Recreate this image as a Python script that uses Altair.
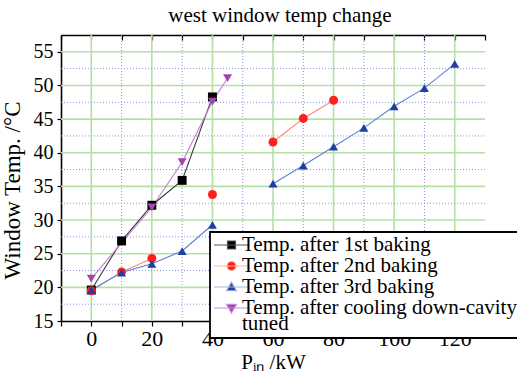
import altair as alt
import pandas as pd

# ---------------- data ----------------
series_names = [
    "Temp. after 1st baking",
    "Temp. after 2nd baking",
    "Temp. after 3rd baking",
    "Temp. after cooling down-cavity tuned",
]
x1 = [0, 10, 20, 30, 40]
y1 = [19.6, 26.9, 32.2, 35.9, 48.3]
x2 = [0, 10, 20, 30, 40, 50, 60, 70, 80]
y2 = [19.5, 22.3, 24.3, None, 33.8, None, 41.6, 45.1, 47.8]
x3 = [0, 10, 20, 30, 40, 50, 60, 70, 80, 90, 100, 110, 120]
y3 = [19.6, 22.2, 23.5, 25.4, 29.3, None, 35.4, 38.1, 40.9, 43.7, 46.9, 49.6, 53.2]
x4 = [0, 20, 30, 40, 45]
y4 = [21.3, 31.9, 38.6, 47.6, 51.1]

x_major = [0, 20, 40, 60, 80, 100, 120]
x_minor = [10, 30, 50, 70, 90, 110]
x_minor_ticks = [-10, 10, 30, 50, 70, 90, 110, 130]
x_all_ticks = [-10, 0, 10, 20, 30, 40, 50, 60, 70, 80, 90, 100, 110, 120, 130]
y_major = [20, 25, 30, 35, 40, 45, 50, 55]
y_labels = [15, 20, 25, 30, 35, 40, 45, 50, 55]
y_minor = [17.5, 22.5, 27.5, 32.5, 37.5, 42.5, 47.5, 52.5]

# ---------------- styles ----------------
marker_colors = ["#000000", "#ff1f1f", "#1f3fa3", "#a444ae"]
line_colors = ["#3a3a3a", "#ff8c78", "#5b80d8", "#c87ad2"]
legend_line_colors = ["#555555", "#ffb4a6", "#a6b6e6", "#c98fd6"]
plot_shapes = ["square", "circle", "triangle-up", "triangle-down"]
legend_shapes = [
    "M-3.6,0H3.6M-0.8,-0.8H0.8V0.8H-0.8Z",
    "M-3.6,0H3.6M-0.9,0A0.9,0.9 0 1,0 0.9,0A0.9,0.9 0 1,0 -0.9,0Z",
    "M-3.6,0H3.6M0,-1L1,0.75H-1Z",
    "M-3.6,0H3.6M0,1L1,-0.75H-1Z",
]
FONT = "Liberation Serif"
FS = 21

rows = []
for name, xs, ys in zip(series_names, [x1, x2, x3, x4], [y1, y2, y3, y4]):
    for xv, yv in zip(xs, ys):
        rows.append({"series": name, "P": xv, "T": yv})
df = pd.DataFrame(rows)

xscale = alt.Scale(domain=[-10, 130], nice=False, zero=False)
yscale = alt.Scale(domain=[15, 57.5], nice=False, zero=False)

grid_green = "#b4e0a4"
grid_blue = "#8796dc"

gx_major = alt.Chart(pd.DataFrame({"gx": x_major})).mark_rule(
    color=grid_green, strokeWidth=1.6
).encode(
    x=alt.X("gx:Q", scale=xscale,
            axis=alt.Axis(orient="top", values=x_all_ticks, labels=False, domain=False,
                          grid=False, ticks=True, tickSize=5, tickColor="#000000",
                          tickWidth=1.2, offset=-5, title=None))
)
gx_minor = alt.Chart(pd.DataFrame({"gx": x_minor})).mark_rule(
    color=grid_blue, strokeWidth=1, strokeDash=[1, 2]
).encode(
    x=alt.X("gx:Q", scale=xscale,
            axis=alt.Axis(orient="bottom", values=x_minor_ticks, labels=False, domain=False,
                          grid=False, ticks=True, tickSize=5, tickColor="#000000",
                          tickWidth=1.2, title=None))
)
gy_major = alt.Chart(pd.DataFrame({"gy": y_major})).mark_rule(
    color=grid_green, strokeWidth=1.6
).encode(y=alt.Y("gy:Q", scale=yscale, axis=None))
gy_minor = alt.Chart(pd.DataFrame({"gy": y_minor})).mark_rule(
    color=grid_blue, strokeWidth=1, strokeDash=[1, 2]
).encode(y=alt.Y("gy:Q", scale=yscale, axis=None))

lines = alt.Chart(df).mark_line(strokeWidth=1.1, invalid="break-paths-show-domains").encode(
    x=alt.X("P:Q", scale=xscale,
            axis=alt.Axis(orient="bottom", values=x_major, labels=True, domain=True,
                          domainColor="#000000", domainWidth=1.6, grid=False,
                          tickSize=5, tickColor="#000000", tickWidth=1.2,
                          labelFont=FONT, labelFontSize=22, labelColor="#000000",
                          labelPadding=2, labelFlush=False,
                          title="Pᵢₙ /kW", titleFont=FONT, titleFontSize=FS,
                          titleFontWeight="normal", titleColor="#000000",
                          titlePadding=2)),
    y=alt.Y("T:Q", scale=yscale,
            axis=alt.Axis(orient="left", values=y_labels, labels=True, domain=True,
                          domainColor="#000000", domainWidth=1.6, grid=False,
                          tickSize=4, tickColor="#000000", tickWidth=1.2,
                          labelFont=FONT, labelFontSize=20, labelColor="#000000",
                          labelPadding=4, labelFlush=False,
                          title="Window Temp. /°C", titleFont=FONT, titleFontSize=23,
                          titleFontWeight="normal", titleColor="#000000",
                          titleX=-37, titleY=155, titleAngle=270)),
    stroke=alt.Stroke("series:N", scale=alt.Scale(domain=series_names, range=line_colors),
                      legend=None),
    detail="series:N",
)

points = alt.Chart(df).mark_point(filled=True, opacity=1, size=80).encode(
    x=alt.X("P:Q", scale=xscale,
            axis=alt.Axis(orient="top", labels=False, ticks=False, domain=True,
                          domainColor="#000000", domainWidth=1.6, grid=False, title=None)),
    y=alt.Y("T:Q", scale=yscale, axis=None),
    fill=alt.Fill("series:N", scale=alt.Scale(domain=series_names, range=marker_colors),
                  legend=None),
    shape=alt.Shape("series:N", scale=alt.Scale(domain=series_names, range=plot_shapes),
                    legend=None),
)

legend_common = dict(
    orient="none", legendX=149, legendY=197, title=None,
    labelFont=FONT, labelFontSize=FS, labelColor="#000000", labelLimit=0,
    labelExpr="datum.label == 'Temp. after cooling down-cavity tuned' ? ['Temp. after cooling down-cavity', 'tuned'] : datum.label",
    symbolSize=100, symbolStrokeWidth=1.2, symbolOffset=7, labelOffset=0,
    clipHeight=18, rowPadding=0, padding=4, fillColor="#ffffff", strokeColor="#000000",
)

legend_df = pd.DataFrame({"series": series_names})
legend_layer = alt.Chart(legend_df).mark_point(filled=True, opacity=1).encode(
    fill=alt.Fill("series:N", scale=alt.Scale(domain=series_names, range=marker_colors),
                  legend=alt.Legend(**legend_common)),
    stroke=alt.Stroke("series:N", scale=alt.Scale(domain=series_names, range=legend_line_colors),
                      legend=alt.Legend(**legend_common)),
    shape=alt.Shape("series:N", scale=alt.Scale(domain=series_names, range=legend_shapes),
                    legend=alt.Legend(**legend_common)),
).transform_filter("false")

chart = alt.layer(
    gx_major, gx_minor, gy_major, gy_minor, lines, points, legend_layer
).resolve_scale(
    fill="independent", stroke="independent", shape="independent"
).resolve_axis(
    x="independent", y="independent"
).properties(
    width=424, height=286,
    autosize=alt.AutoSizeParams(type="none"),
    padding={"left": 61, "top": 35, "right": 32, "bottom": 54},
    title=alt.TitleParams("west window temp change", font=FONT, fontSize=FS,
                          fontWeight="normal", color="#000000", baseline="bottom",
                          offset=12, dx=7, dy=25, anchor="middle", frame="group"),
).configure(
    font=FONT,
    style={
        "guide-label": {"font": FONT, "lineHeight": 16, "fill": "#000000"},
        "guide-title": {"font": FONT, "fontWeight": "normal", "fill": "#000000"},
    },
).configure_view(
    stroke=None, fill="#ffffff"
).configure_axis(
    labelFont=FONT, titleFont=FONT,
    labelColor="#000000", titleColor="#000000", titleFontWeight="normal"
).configure_title(
    font=FONT, fontSize=FS, fontWeight="normal", color="#000000"
).configure_legend(
    strokeWidth=1.8, labelFont=FONT
)

chart.save("out.html", embed_options={"renderer": "svg", "actions": False})
